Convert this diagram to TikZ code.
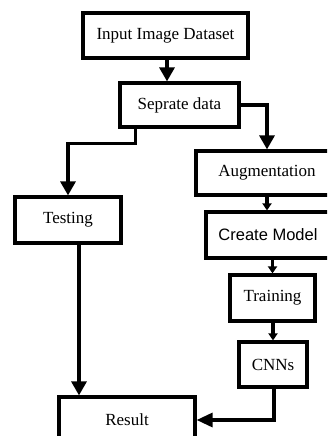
\documentclass[tikz,border=0pt]{standalone}
\usepackage{fontspec}
\setmainfont{Liberation Serif}
\newfontfamily\boxsans{Liberation Sans}
\usetikzlibrary{arrows.meta,calc}
\begin{document}
\begin{tikzpicture}[x=1pt,y=-1pt,
  box/.style={draw=black,line width=3.2pt,fill=white,inner sep=0pt,
    font=\fontsize{17}{20}\selectfont},
  arr/.style={line width=3.2pt,-{Triangle[width=15pt,length=14pt]}},
  arrsmall/.style={line width=3.2pt,-{Triangle[width=9pt,length=7pt]}}]
  \clip (0,0) rectangle (327,436);
  \fill[white] (0,0) rectangle (327,436);

  % process boxes
  \node[box,minimum width=165pt,minimum height=45pt] (inp)   at (165.5,35.5) {Input Image Dataset};
  \node[box,minimum width=119pt,minimum height=44pt] (sep)   at (179.5,105)  {Seprate data};
  \node[box,minimum width=106pt,minimum height=46pt] (test)  at (68,220)     {Testing};
  \node[box,minimum width=142pt,minimum height=44pt] (aug)   at (267,173)    {Augmentation};
  \node[box,minimum width=124pt,minimum height=46pt,
        font=\boxsans\fontsize{16.5}{19}\selectfont]  (cm)    at (268,235)    {Create Model};
  \node[box,minimum width=85pt,minimum height=46pt]  (train) at (272.5,298)  {Training};
  \node[box,minimum width=68pt,minimum height=45pt]  (cnn)   at (273,364.5)  {CNNs};
  \node[box,minimum width=136pt,minimum height=46pt] (res)   at (127,420)    {Result};

  % connectors
  \coordinate (inpout) at ($(inp.south)+(1.5,0)$);
  \draw[arr] (inpout) -- (inpout |- sep.north);
  \draw[arr] (sep.east) -| (aug.north);
  \coordinate (sepout) at ($(sep.south west)+(17,0)$);
  \draw[arr] (sepout) -- ++(0,15) -| (test.north);
  \draw[arrsmall] (aug.south) -- (aug.south |- cm.north);
  \draw[arrsmall] (train.north |- cm.south) -- (train.north);
  \draw[arrsmall] (cnn.north |- train.south) -- (cnn.north);
  \coordinate (testout) at ($(test.south)+(11,0)$);
  \draw[arr] (testout) -- (testout |- res.north);
  \coordinate (cnnout) at ($(cnn.south)+(1,0)$);
  \draw[arr,-{Triangle[width=14pt,length=16pt]}] (cnnout) |- (res.east);
\end{tikzpicture}
\end{document}
